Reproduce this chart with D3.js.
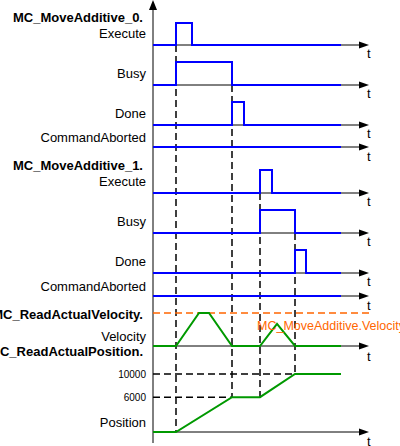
<!DOCTYPE html>
<html><head><meta charset="utf-8">
<script src="https://cdn.jsdelivr.net/npm/d3@7"></script>
<style>body{margin:0;background:#fff}text{font-family:Arial,"Liberation Sans",sans-serif}</style>
</head><body><div id="c"></div>
<script>
// event times (ms-ish units)
const T_END = 188;
const T_ARROW = 216;
const tStart0 = 23, tExecOff0 = 39, tDone0 = 79, tDoneOff0 = 91;
const tStart1 = 107, tExecOff1 = 119, tDone1 = 142, tDoneOff1 = 153;
const tPeak0a = 46, tPeak0b = 56, tPeak1 = 124;

// digital signals: [time, level]
const exec0 = [[0,0],[tStart0,0],[tStart0,1],[tExecOff0,1],[tExecOff0,0],[T_END,0]];
const busy0 = [[0,0],[tStart0,0],[tStart0,1],[tDone0,1],[tDone0,0],[T_END,0]];
const done0 = [[0,0],[tDone0,0],[tDone0,1],[tDoneOff0,1],[tDoneOff0,0],[T_END,0]];
const abort0 = [[0,0],[T_END,0]];
const exec1 = [[0,0],[tStart1,0],[tStart1,1],[tExecOff1,1],[tExecOff1,0],[T_END,0]];
const busy1 = [[0,0],[tStart1,0],[tStart1,1],[tDone1,1],[tDone1,0],[T_END,0]];
const done1 = [[0,0],[tDone1,0],[tDone1,1],[tDoneOff1,1],[tDoneOff1,0],[T_END,0]];
const abort1 = [[0,0],[T_END,0]];
// velocity (fraction of commanded velocity)
const velocity = [[0,0],[tStart0,0],[tPeak0a,1],[tPeak0b,1],[tDone0,0],[tStart1,0],[tPeak1,0.67],[tDone1,0],[T_END,0]];
// position
const position = [[0,0],[tStart0,0],[tDone0,6000],[tStart1,6000],[tDone1,10000],[T_END,10000]];
const posTicks = [6000, 10000];

const svg = d3.select("#c").append("svg").attr("width",400).attr("height",446);
const x = d3.scaleLinear().domain([0, T_END]).range([153, 341]);
const blue = "#0000ff", green = "#009900", orange = "#ff6600";

// rows: label, baseline, high y, data
const rows = [
  {label:"Execute", base:45, high:23, data:exec0, tl:58, title:"MC_MoveAdditive_0.", ty:22},
  {label:"Busy", base:85, high:62, data:busy0, tl:98},
  {label:"Done", base:125, high:102, data:done0, tl:138},
  {label:"CommandAborted", base:147, high:125, data:abort0, tl:161, ly:142},
  {label:"Execute", base:193, high:170, data:exec1, tl:206, title:"MC_MoveAdditive_1.", ty:170},
  {label:"Busy", base:233, high:210, data:busy1, tl:246},
  {label:"Done", base:273, high:250, data:done1, tl:286},
  {label:"CommandAborted", base:296, high:273, data:abort1, tl:310, ly:291}
];

// vertical axis
svg.append("line").attr("x1",153).attr("x2",153).attr("y1",8).attr("y2",443).attr("stroke","#000").attr("stroke-width",1);
svg.append("path").attr("d","M149,10 L153,0 L157,10 Z").attr("fill","#000");

// dashed guides
const dash = (x1,y1,x2,y2) => svg.append("line").attr("x1",x1).attr("y1",y1).attr("x2",x2).attr("y2",y2)
  .attr("stroke","#000").attr("stroke-width",1.5).attr("stroke-dasharray","7,4");
const yPos = d3.scaleLinear().domain([0,10000]).range([432,374]);
dash(x(tStart0),45,x(tStart0),432);
dash(x(tDone0),85,x(tDone0),yPos(6000));
dash(x(tStart1),193,x(tStart1),yPos(6000));
dash(x(tDone1),233,x(tDone1),yPos(10000));
dash(153,yPos(6000),x(tDone0),yPos(6000));
dash(153,yPos(10000),x(tDone1),yPos(10000));

function timeAxis(y, ty){
  svg.append("line").attr("x1",153).attr("x2",x(T_ARROW)-8).attr("y1",y).attr("y2",y).attr("stroke","#000");
  svg.append("path").attr("d",`M${x(T_ARROW)-10},${y-3.5} L${x(T_ARROW)},${y} L${x(T_ARROW)-10},${y+3.5} Z`).attr("fill","#000");
  svg.append("text").attr("x",367).attr("y",ty).attr("font-size",13).text("t");
}
function label(txt, y, bold){
  svg.append("text").attr("x", bold?143:146).attr("y",y).attr("text-anchor","end")
    .attr("font-size",13).attr("font-weight",bold?"bold":"normal").text(txt);
}

rows.forEach(r => {
  timeAxis(r.base, r.tl);
  const y = d3.scaleLinear().domain([0,1]).range([r.base, r.high]);
  svg.append("path").datum(r.data).attr("fill","none").attr("stroke",blue).attr("stroke-width",2)
    .attr("d", d3.line().x(d=>x(d[0])).y(d=>y(d[1])));
  label(r.label, r.ly || r.base-7);
  if (r.title) label(r.title, r.ty, true);
});

// velocity
const yVel = d3.scaleLinear().domain([0,1]).range([346,313]);
timeAxis(346, 361);
svg.append("line").attr("x1",153).attr("x2",369).attr("y1",yVel(1)).attr("y2",yVel(1))
  .attr("stroke",orange).attr("stroke-width",1.5).attr("stroke-dasharray","7,4");
svg.append("path").datum(velocity).attr("fill","none").attr("stroke",green).attr("stroke-width",2)
  .attr("d", d3.line().x(d=>x(d[0])).y(d=>yVel(d[1])));
svg.append("text").attr("x",257).attr("y",330).attr("fill",orange).attr("font-size",12.5).text("MC_MoveAdditive.Velocity");
label("MC_ReadActualVelocity.", 319, true);
label("Velocity", 341);

// position
timeAxis(432, 446);
svg.append("path").datum(position).attr("fill","none").attr("stroke",green).attr("stroke-width",2)
  .attr("d", d3.line().x(d=>x(d[0])).y(d=>yPos(d[1])));
label("MC_ReadActualPosition.", 356, true);
posTicks.forEach(v => svg.append("text").attr("x",146).attr("y",yPos(v)+3.5).attr("text-anchor","end")
  .attr("font-size",10).text(v));
label("Position", 427);
</script></body></html>
